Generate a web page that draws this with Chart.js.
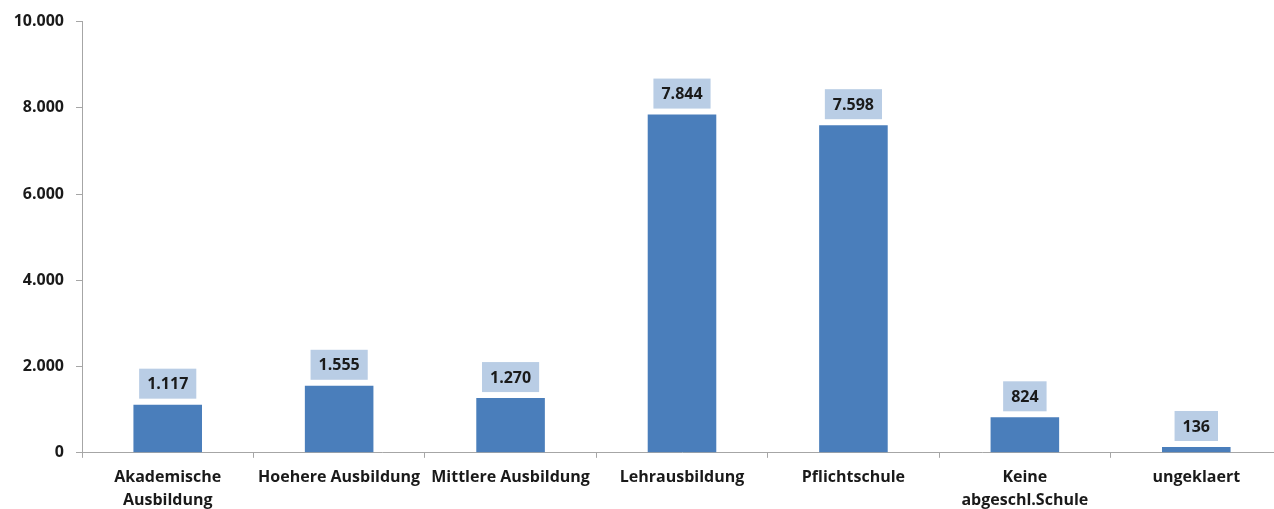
<!DOCTYPE html>
<html>
<head>
<meta charset="utf-8">
<script src="https://cdn.jsdelivr.net/npm/chart.js@4"></script>
<style>
  html, body { margin: 0; padding: 0; background: #fff; overflow: hidden; }
  #wrap { width: 1283px; height: 520px; position: relative; }
</style>
</head>
<body>
<div id="wrap"><canvas id="bildungChart"></canvas></div>
<script>
// Kategorien und Werte
const kategorien = [
  ['Akademische', 'Ausbildung'],
  'Hoehere Ausbildung',
  'Mittlere Ausbildung',
  'Lehrausbildung',
  'Pflichtschule',
  ['Keine', 'abgeschl.Schule'],
  'ungeklaert'
];
const werte = [1117, 1555, 1270, 7844, 7598, 824, 136];
const yTicks = [0, 2000, 4000, 6000, 8000, 10000];

const fmt = (v) => v.toLocaleString('de-DE');
const schrift = "'Open Sans', 'Liberation Sans', sans-serif";

// Datenbeschriftungen mit hellblauem Kasten
const labelBoxen = {
  id: 'labelBoxen',
  afterDatasetsDraw(chart) {
    const ctx = chart.ctx;
    const meta = chart.getDatasetMeta(0);
    ctx.save();
    ctx.font = 'bold 16px ' + schrift;
    ctx.textAlign = 'center';
    ctx.textBaseline = 'middle';
    meta.data.forEach((bar, i) => {
      const txt = fmt(werte[i]);
      const w = ctx.measureText(txt).width + 16;
      const h = 30;
      const unten = bar.y - 6;
      ctx.fillStyle = '#b9cde5';
      ctx.fillRect(bar.x - w / 2, unten - h, w, h);
      ctx.fillStyle = '#1a1a1a';
      ctx.fillText(txt, bar.x, unten - h / 2 + 1);
    });
    ctx.restore();
  }
};

const ctx = document.getElementById('bildungChart').getContext('2d');
new Chart(ctx, {
  type: 'bar',
  data: {
    labels: kategorien,
    datasets: [{
      data: werte,
      backgroundColor: '#4a7ebb',
      categoryPercentage: 0.40,
      barPercentage: 1
    }]
  },
  options: {
    responsive: true,
    maintainAspectRatio: false,
    animation: false,
    layout: { padding: { top: 21, right: 1, left: 0, bottom: 0 } },
    plugins: {
      legend: { display: false },
      tooltip: { enabled: false }
    },
    scales: {
      x: {
        offset: true,
        grid: {
          offset: true,
          drawOnChartArea: false,
          drawTicks: true,
          tickLength: 5,
          color: '#a6a6a6'
        },
        border: { color: '#a6a6a6', width: 1 },
        ticks: {
          color: '#1a1a1a',
          font: { family: schrift, size: 16, weight: 'bold', lineHeight: 1.38 },
          maxRotation: 0,
          autoSkip: false,
          padding: 9
        }
      },
      y: {
        min: 0,
        max: 10000,
        afterBuildTicks(scale) {
          scale.ticks = yTicks.map(v => ({ value: v }));
        },
        afterFit(scale) { scale.width = 82; },
        grid: {
          drawOnChartArea: false,
          drawTicks: true,
          tickLength: 6,
          color: '#a6a6a6'
        },
        border: { color: '#a6a6a6', width: 1 },
        ticks: {
          color: '#1a1a1a',
          font: { family: schrift, size: 16, weight: 'bold' },
          padding: 12,
          callback: (v) => fmt(v)
        }
      }
    }
  },
  plugins: [labelBoxen]
});
</script>
</body>
</html>
